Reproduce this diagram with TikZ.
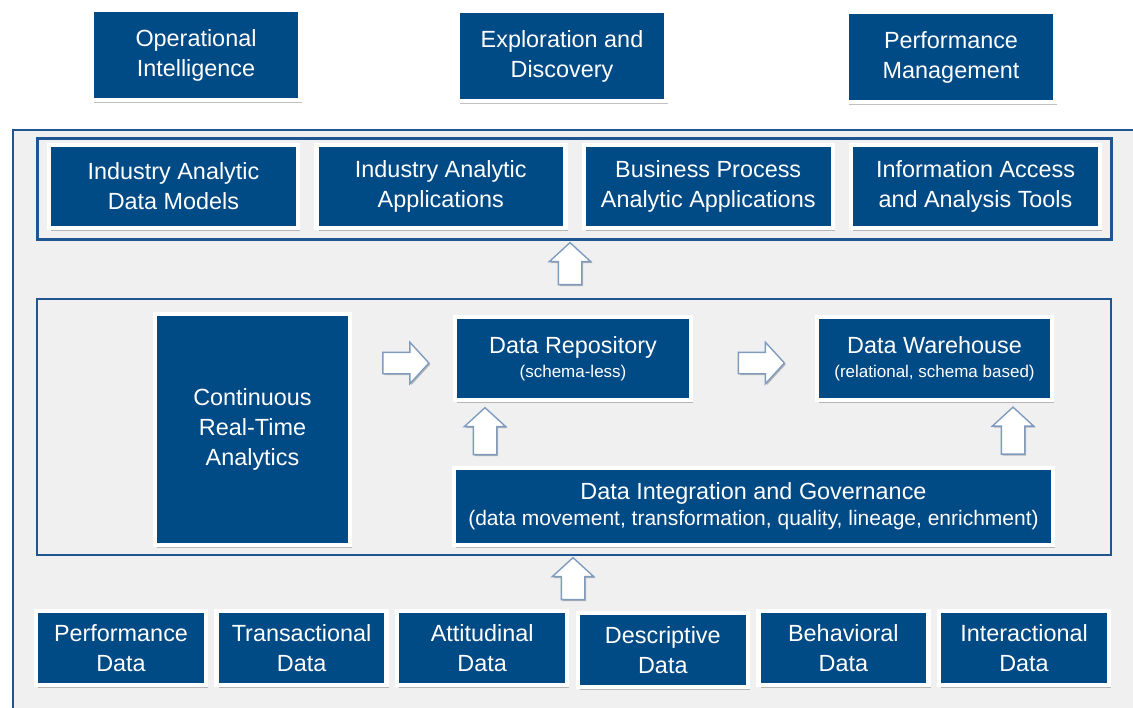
\documentclass[tikz,border=0pt]{standalone}
\usepackage{fontspec}
\setmainfont{Liberation Sans}
\usetikzlibrary{shapes.arrows,shadows}
\definecolor{boxblue}{HTML}{004A86}
\definecolor{lineblue}{HTML}{1F5591}
\definecolor{panelgray}{HTML}{F0F0F0}
\definecolor{arrowedge}{HTML}{7F9CC0}
\newcommand\subtxt[1]{{\fontsize{8.5}{10}\selectfont #1}}

\begin{document}
\begin{tikzpicture}
[x=0.5pt, y=-0.5pt,
box/.style={draw=white, line width=2.2pt, fill=boxblue, text=white, align=center, inner sep=0pt,
  font=\fontsize{11.7}{15}\selectfont,
  drop shadow={shadow xshift=1.1pt, shadow yshift=-1.3pt, opacity=0.35, fill=black!70}},
boxw/.style={box, minimum width=104pt, minimum height=45pt},
boxa/.style={box, minimum width=124.5pt, minimum height=41.5pt},
boxd/.style={box, minimum width=85pt, minimum height=37pt},
frame/.style={draw=lineblue},
barrow/.style={single arrow, draw=arrowedge, fill=white, line width=0.7pt, inner xsep=0pt, inner ysep=5.5pt,
  minimum width=20pt, single arrow head extend=4.5pt, single arrow tip angle=95,
  drop shadow={shadow xshift=0.7pt, shadow yshift=-0.7pt, opacity=0.25, fill=black}}]
\useasboundingbox (0,0) rectangle (1133,707);

% panel and frames
\fill[panelgray] (13,130) rectangle (1140,720);
\draw[lineblue, line width=1pt] (1140,130) -- (13,130) -- (13,720);
\draw[frame, line width=1.5pt] (37,138.5) rectangle (1111,239);
\draw[frame, line width=1.1pt] (37,299) rectangle (1111,555);

% goals
\node[boxw] (opint) at (196,55) {Operational\\Intelligence};
\node[boxw] (explore) at (562,56) {Exploration and\\Discovery};
\node[boxw] (perfmgmt) at (951,57) {Performance\\Management};

% applications
\node[boxa] (models) at (173.5,186.5) {Industry Analytic\\Data Models};
\node[boxa] (apps) at (440.8,186.5) {Industry Analytic\\Applications};
\node[boxa] (bpapps) at (708.2,186.5) {Business Process\\Analytic Applications};
\node[boxa] (access) at (975.5,186.5) {Information Access\\and Analysis Tools};

\node[barrow, rotate=90, minimum height=21pt] (up1) at (570,269) {};

% platform
\node[box, minimum width=97.5pt, minimum height=115.5pt] (realtime) at (252.5,429.5) {Continuous\\Real-Time\\Analytics};
\node[box, minimum width=118pt, minimum height=41.5pt] (repo) at (573,358.5) {Data Repository\\[-3pt]\subtxt{(schema-less)}};
\node[box, minimum width=117.5pt, minimum height=41.5pt] (warehouse) at (934.5,358.5) {Data Warehouse\\[-3pt]\subtxt{(relational, schema based)}};
\node[box, minimum width=299.5pt, minimum height=38.5pt] (integ) at (753.5,506.5) {Data Integration and Governance\\[-2pt]{\fontsize{10.5}{12}\selectfont (data movement, transformation, quality, lineage, enrichment)}};

\node[barrow, minimum height=23pt, inner ysep=5pt, single arrow head extend=5pt] (right1) at (401,363) {};
\node[barrow, minimum height=23pt, inner ysep=5pt, single arrow head extend=5pt] (right2) at (756.5,363) {};
\node[barrow, rotate=90, minimum height=23.5pt] (up2) at (485,436.5) {};
\node[barrow, rotate=90, minimum height=23.5pt] (up3) at (1013,436) {};
\node[barrow, rotate=90, minimum height=21pt] (up4) at (573,584) {};

% sources
\node[boxd] (perfdata) at (121,648) {Performance\\Data};
\node[boxd] (transdata) at (301.6,648) {Transactional\\Data};
\node[boxd] (attdata) at (482.2,648) {Attitudinal\\Data};
\node[boxd] (descdata) at (662.8,650) {Descriptive\\Data};
\node[boxd] (behdata) at (843.4,648) {Behavioral\\Data};
\node[boxd] (intdata) at (1024,648) {Interactional\\Data};
\end{tikzpicture}
\end{document}
